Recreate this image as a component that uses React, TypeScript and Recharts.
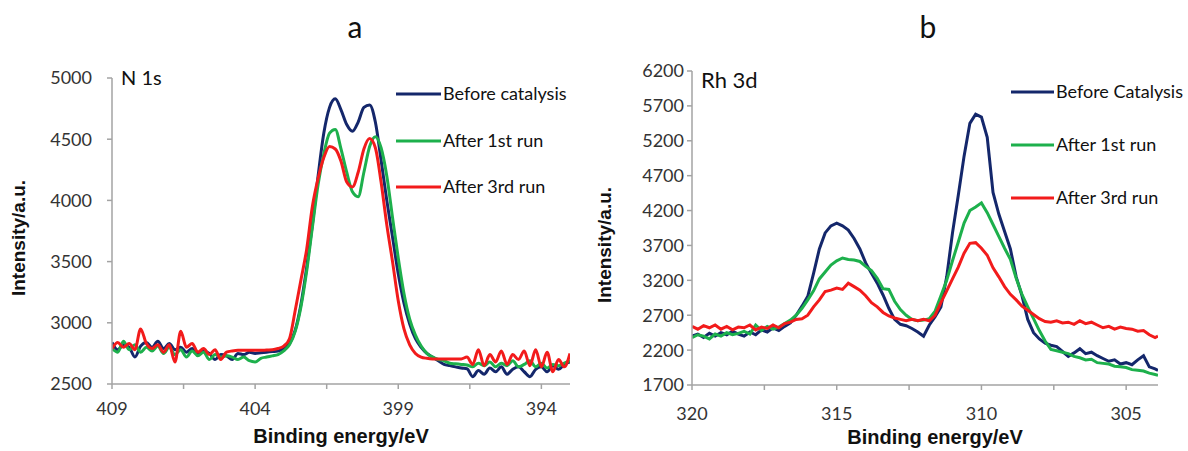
import { LineChart, Line, XAxis, YAxis } from "recharts";

// N 1s panel (a)
const n1sEnergy = [
  409.0, 408.8, 408.6, 408.4, 408.2, 408.0, 407.8, 407.6, 407.4, 407.2, 407.0, 406.8, 406.6, 406.4, 406.2, 406.0,
  405.8, 405.6, 405.4, 405.2, 405.0, 404.8, 404.6, 404.4, 404.2, 404.0, 403.8, 403.6, 403.4, 403.2, 403.0, 402.8,
  402.6, 402.4, 402.2, 402.0, 401.8, 401.6, 401.4, 401.2, 401.0, 400.8, 400.6, 400.4, 400.2, 400.0, 399.8, 399.6,
  399.4, 399.2, 399.0, 398.8, 398.6, 398.4, 398.2, 398.0, 397.8, 397.6, 397.4, 397.2, 397.0, 396.8, 396.6, 396.4,
  396.2, 396.0, 395.8, 395.6, 395.4, 395.2, 395.0, 394.8, 394.6, 394.4, 394.2, 394.0, 393.8, 393.6, 393.4, 393.2,
  393.0,
];
const n1sBefore = [
  2840, 2780, 2820, 2800, 2720, 2810, 2840, 2800, 2850, 2790, 2830, 2780, 2800, 2760, 2790, 2740,
  2770, 2750, 2700, 2740, 2730, 2700, 2750, 2740, 2760, 2750, 2755, 2760, 2765, 2770, 2790, 2830,
  2940, 3150, 3450, 3800, 4200, 4550, 4760, 4830, 4740, 4620, 4565, 4640, 4760, 4780, 4640, 4330,
  4000, 3700, 3400, 3160, 2990, 2870, 2800, 2750, 2720, 2690, 2660, 2650, 2640, 2630, 2625, 2560,
  2610, 2580, 2630, 2600, 2640, 2580, 2620, 2640, 2600, 2560, 2620, 2640, 2600, 2650, 2620, 2660,
  2680,
];
const n1sFirst = [
  2790, 2760, 2850, 2780, 2820, 2760, 2800, 2770, 2810, 2750, 2800, 2740, 2780, 2720, 2770, 2730,
  2760, 2700, 2740, 2720, 2730, 2720, 2700, 2720, 2690, 2680, 2710, 2720, 2730, 2740, 2770, 2820,
  2930, 3130, 3420, 3780, 4130, 4380, 4550, 4580, 4420, 4230, 4070, 4030, 4230, 4440, 4520, 4430,
  4200, 3860, 3530, 3240, 3030, 2900, 2810, 2750, 2720, 2700, 2690, 2670, 2665, 2660, 2655, 2640,
  2670, 2650, 2680, 2640, 2670, 2650, 2690, 2640, 2660, 2690, 2640, 2670, 2630, 2660, 2650, 2670,
  2690,
];
const n1sThird = [
  2790, 2840, 2800, 2830, 2780, 2950, 2830, 2790, 2820, 2760, 2820, 2680, 2930, 2800, 2830, 2760,
  2790, 2740, 2780, 2700, 2760, 2770, 2775, 2775, 2775, 2775, 2775, 2778, 2780, 2790, 2810, 2870,
  3100, 3350, 3600, 3950, 4180, 4350, 4440, 4420, 4320, 4150, 4110, 4230, 4420, 4505, 4430, 4150,
  3800, 3500, 3180, 2950, 2820, 2750, 2720, 2710, 2705, 2704, 2704, 2704, 2704, 2705, 2720, 2660,
  2780, 2650, 2740, 2680, 2770, 2660, 2740, 2700, 2770, 2650, 2780, 2640, 2760, 2600, 2700, 2640,
  2750,
];
const n1sXTicks = [409, 406.5, 404, 401.5, 399, 396.5, 394];
const n1sYTicks = [2500, 3000, 3500, 4000, 4500, 5000];
const n1sNames = ["Before catalysis", "After 1st run", "After 3rd run"];

// Rh 3d panel (b)
const rhEnergy = [
  320.0, 319.8, 319.6, 319.4, 319.2, 319.0, 318.8, 318.6, 318.4, 318.2, 318.0, 317.8, 317.6, 317.4, 317.2, 317.0,
  316.8, 316.6, 316.4, 316.2, 316.0, 315.8, 315.6, 315.4, 315.2, 315.0, 314.8, 314.6, 314.4, 314.2, 314.0, 313.8,
  313.6, 313.4, 313.2, 313.0, 312.8, 312.6, 312.4, 312.2, 312.0, 311.8, 311.6, 311.4, 311.2, 311.0, 310.8, 310.6,
  310.4, 310.2, 310.0, 309.8, 309.6, 309.4, 309.2, 309.0, 308.8, 308.6, 308.4, 308.2, 308.0, 307.8, 307.6, 307.4,
  307.2, 307.0, 306.8, 306.6, 306.4, 306.2, 306.0, 305.8, 305.6, 305.4, 305.2, 305.0, 304.8, 304.6, 304.4, 304.2,
  304.0, 303.9,
];
const rhBefore = [
  2400, 2430, 2380, 2440, 2400, 2450, 2420, 2470, 2430, 2400, 2460, 2420, 2490, 2460, 2520, 2480,
  2540, 2590, 2700, 2830, 2970, 3300, 3650, 3880, 3980, 4020, 3980, 3920, 3800, 3650, 3450, 3300,
  3160, 2990, 2800, 2640, 2570, 2550, 2510, 2460, 2400, 2560, 2680, 2820, 3250, 3880, 4420, 4980,
  5450, 5580, 5540, 5250, 4460, 4150, 3900, 3650, 3250, 2980, 2640, 2450, 2360, 2300, 2270, 2250,
  2180, 2110, 2160, 2220, 2150, 2170, 2120, 2080, 2040, 2060, 2000, 2020, 1990, 2060, 2120, 1960,
  1930, 1910,
];
const rhFirst = [
  2380, 2420, 2400, 2360, 2430, 2400, 2450, 2420, 2440, 2470, 2430, 2560, 2480, 2540, 2500, 2530,
  2580, 2630, 2700, 2800, 2920, 3050, 3220, 3320, 3420, 3480, 3520, 3500, 3490, 3470, 3400, 3340,
  3230, 3080, 3070, 2900, 2780, 2700, 2640, 2620, 2630, 2650, 2760, 2980, 3200, 3480, 3750, 4020,
  4200, 4250, 4310, 4170, 4000, 3830, 3660, 3500, 3230, 3000, 2820, 2650, 2480, 2330, 2210, 2190,
  2170, 2150, 2110, 2090, 2060, 2070, 2020, 2010, 2000, 1970, 1960, 1950, 1920, 1910, 1900, 1870,
  1850, 1840,
];
const rhThird = [
  2540, 2500, 2550, 2520, 2560, 2500, 2540, 2490, 2530, 2520, 2560, 2490, 2530, 2510, 2560, 2520,
  2580, 2600, 2640, 2650, 2700, 2820, 2920, 3040, 3060, 3090, 3070, 3160, 3110, 3060, 2980, 2880,
  2820, 2740, 2690, 2660, 2640, 2620, 2640, 2620, 2640, 2620, 2700, 2880, 3050, 3220, 3390, 3590,
  3730, 3740, 3660, 3560, 3380, 3250, 3110, 3000, 2920, 2830, 2770, 2710, 2650, 2610, 2600, 2620,
  2590, 2600, 2570, 2620, 2580, 2600, 2560, 2520, 2540, 2500, 2530, 2510, 2500, 2470, 2480, 2420,
  2380, 2400,
];
const rhXTicks = [320, 317.5, 315, 312.5, 310, 307.5, 305];
const rhYTicks = [1700, 2200, 2700, 3200, 3700, 4200, 4700, 5200, 5700, 6200];
const rhNames = ["Before Catalysis", "After 1st run", "After 3rd run"];

const colors = ["#14276B", "#1DB04C", "#F21B1B"];
const keys = ["s0", "s1", "s2"];

const n1sRows = n1sEnergy.map((e, i) => ({ e, s0: n1sBefore[i], s1: n1sFirst[i], s2: n1sThird[i] }));
const rhRows = rhEnergy.map((e, i) => ({ e, s0: rhBefore[i], s1: rhFirst[i], s2: rhThird[i] }));

const axisGray = "#A3A3A3";
const tickStyle = { fill: "#333", fontSize: 18, fontFamily: "Lato" };
const titleStyle = { fontFamily: "Liberation Sans", fontWeight: 700, fill: "#111" } as const;
const showInt = (v: number) => (Number.isInteger(v) ? String(v) : "");

export default function App() {
  return (
    <div style={{ position: "absolute", left: 0, top: 0, width: 1188, height: 451, background: "#fff" }}>
      <div style={{ position: "absolute", left: 0, top: 0 }}>
        <LineChart width={600} height={451} data={n1sRows} margin={{ top: 78, right: 30, bottom: 7, left: 0 }}>
          <XAxis
            dataKey="e"
            type="number"
            domain={[393, 409]}
            reversed
            allowDataOverflow
            ticks={n1sXTicks}
            interval={0}
            tickFormatter={showInt}
            height={60}
            stroke={axisGray}
            strokeWidth={1.5}
            tickSize={5}
            tickMargin={13}
            tick={tickStyle}
          />
          <YAxis
            type="number"
            domain={[2500, 5000]}
            ticks={n1sYTicks}
            interval={0}
            width={112}
            stroke={axisGray}
            strokeWidth={1.5}
            tickSize={5}
            tickMargin={15}
            tick={tickStyle}
          />
          {keys.map((k, i) => (
            <Line key={k} dataKey={k} type="monotone" stroke={colors[i]} strokeWidth={3} dot={false} isAnimationActive={false} />
          ))}
        </LineChart>
      </div>
      <div style={{ position: "absolute", left: 590, top: 0 }}>
        <LineChart width={598} height={451} data={rhRows} margin={{ top: 71, right: 30, bottom: 6, left: 0 }}>
          <XAxis
            dataKey="e"
            type="number"
            domain={[303.9, 320]}
            reversed
            allowDataOverflow
            ticks={rhXTicks}
            interval={0}
            tickFormatter={showInt}
            height={60}
            stroke={axisGray}
            strokeWidth={1.5}
            tickSize={5}
            tickMargin={17}
            tick={tickStyle}
          />
          <YAxis
            type="number"
            domain={[1700, 6200]}
            ticks={rhYTicks}
            interval={0}
            width={102}
            stroke={axisGray}
            strokeWidth={1.5}
            tickSize={5}
            tickMargin={3}
            tick={tickStyle}
          />
          {keys.map((k, i) => (
            <Line key={k} dataKey={k} type="linear" stroke={colors[i]} strokeWidth={3} dot={false} isAnimationActive={false} />
          ))}
        </LineChart>
      </div>
      <svg width={1188} height={451} style={{ position: "absolute", left: 0, top: 0, pointerEvents: "none" }}>
        <text x={355} y={38} textAnchor="middle" fontFamily="Lato" fontSize={30} fill="#111">a</text>
        <text x={928} y={38} textAnchor="middle" fontFamily="Lato" fontSize={30} fill="#111">b</text>
        <text x={121} y={85} fontFamily="Lato" fontSize={20} fill="#111">N 1s</text>
        <text x={701} y={88} fontFamily="Lato" fontSize={22} fill="#111">Rh 3d</text>

        <text x={341} y={443} textAnchor="middle" fontSize={20} style={titleStyle}>Binding energy/eV</text>
        <text x={935} y={444} textAnchor="middle" fontSize={20} style={titleStyle}>Binding energy/eV</text>
        <text x={25} y={238} textAnchor="middle" fontSize={19} transform="rotate(-90 25 238)" style={titleStyle}>Intensity/a.u.</text>
        <text x={611} y={245} textAnchor="middle" fontSize={19} transform="rotate(-90 611 245)" style={titleStyle}>Intensity/a.u.</text>

        {n1sNames.map((name, i) => {
          const y = [94, 141, 187][i];
          return (
            <g key={name}>
              <line x1={396} x2={441} y1={y} y2={y} stroke={colors[i]} strokeWidth={3} />
              <text x={443} y={y + 6} fontFamily="Lato" fontSize={18} fill="#111">{name}</text>
            </g>
          );
        })}
        {rhNames.map((name, i) => {
          const y = [92, 145, 198][i];
          return (
            <g key={name}>
              <line x1={1011} x2={1054} y1={y} y2={y} stroke={colors[i]} strokeWidth={3} />
              <text x={1056} y={y + 6} fontFamily="Lato" fontSize={18} fill="#111">{name}</text>
            </g>
          );
        })}
      </svg>
    </div>
  );
}
